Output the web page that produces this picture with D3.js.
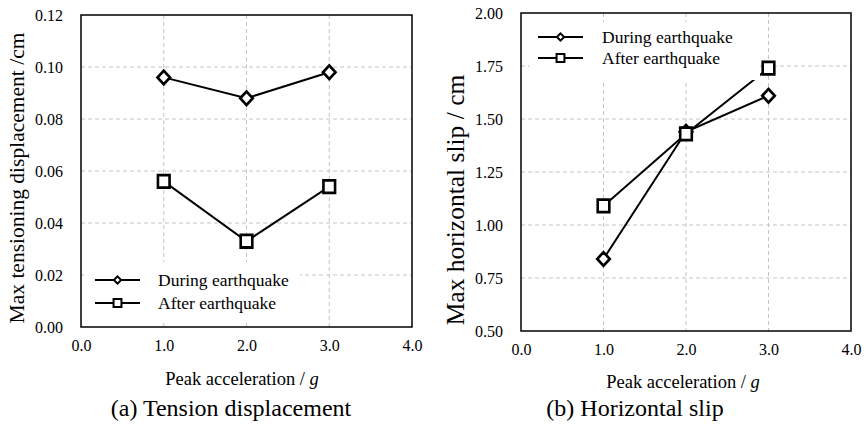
<!DOCTYPE html>
<html>
<head>
<meta charset="utf-8">
<script src="https://cdn.jsdelivr.net/npm/d3@7"></script>
<style>
    body { margin: 0; background: #fff; }
    svg { display: block; font-family: "Liberation Serif", "Times New Roman", serif; }
</style>
</head>
<body>
<svg id="fig" width="866" height="428"></svg>
<script>
// 横轴 峰值加速度
const accel = [1.0, 2.0, 3.0];
const xTicks = [0.0, 1.0, 2.0, 3.0, 4.0];
const seriesNames = ['During earthquake', 'After earthquake'];

// (a) 张拉位移
const tensionDuring = [0.096, 0.088, 0.098];
const tensionAfter = [0.056, 0.033, 0.054];
const tensionTicks = [0.00, 0.02, 0.04, 0.06, 0.08, 0.10, 0.12];

// (b) 水平滑移
const slipDuring = [0.84, 1.44, 1.61];
const slipAfter = [1.09, 1.43, 1.74];
const slipTicks = [0.50, 0.75, 1.00, 1.25, 1.50, 1.75, 2.00];

const svg = d3.select('#fig');

// 画 一个 子图
function drawPanel(cfg) {
    let g = svg.append('g');
    let x = d3.scaleLinear().domain([0, 4]).range([cfg.left, cfg.right]);
    let y = d3.scaleLinear().domain(d3.extent(cfg.yTicks)).range([cfg.bottom, cfg.top]);

    // 网格
    g.selectAll('.vgrid').data(xTicks.slice(1, -1)).enter().append('line')
        .attr('x1', d => x(d)).attr('x2', d => x(d))
        .attr('y1', cfg.top).attr('y2', cfg.bottom)
        .attr('stroke', '#c4c4c4').attr('stroke-width', 1).attr('stroke-dasharray', '4,3');
    g.selectAll('.hgrid').data(cfg.yTicks.slice(1, -1)).enter().append('line')
        .attr('x1', cfg.left).attr('x2', cfg.right)
        .attr('y1', d => y(d)).attr('y2', d => y(d))
        .attr('stroke', '#c4c4c4').attr('stroke-width', 1).attr('stroke-dasharray', '4,3');

    // 坐标轴 刻度文字
    let xAxis = d3.axisBottom(x).tickValues(xTicks).tickSize(0).tickPadding(13)
        .tickFormat(d3.format('.1f'));
    g.append('g').attr('transform', 'translate(0,' + cfg.bottom + ')').call(xAxis)
        .call(a => a.select('.domain').remove())
        .selectAll('text').attr('font-size', 16).attr('font-family', 'Liberation Serif').attr('fill', '#000');
    let yAxis = d3.axisLeft(y).tickValues(cfg.yTicks).tickSize(0).tickPadding(cfg.yPad)
        .tickFormat(d3.format('.2f'));
    g.append('g').attr('transform', 'translate(' + cfg.left + ',0)').call(yAxis)
        .call(a => a.select('.domain').remove())
        .selectAll('text').attr('font-size', 16).attr('font-family', 'Liberation Serif').attr('fill', '#000');

    // 线条 和 标记
    let line = d3.line().x((d, i) => x(accel[i])).y(d => y(d));
    let series = [
        {values: cfg.during, shape: d3.symbolDiamond2, size: 100, lsize: 34},
        {values: cfg.after, shape: d3.symbolSquare, size: 135, lsize: 62}
    ];
    for (let s of series) {
        g.append('path').attr('d', line(s.values))
            .attr('fill', 'none').attr('stroke', '#000').attr('stroke-width', 2);
    }
    for (let s of series) {
        g.selectAll(null).data(s.values).enter().append('path')
            .attr('d', d3.symbol().type(s.shape).size(s.size))
            .attr('transform', (d, i) => 'translate(' + x(accel[i]) + ',' + y(d) + ') scale(1,1.08)')
            .attr('fill', '#fff').attr('stroke', '#000').attr('stroke-width', 2.6);
    }

    // 外框
    g.append('rect').attr('x', cfg.left).attr('y', cfg.top)
        .attr('width', cfg.right - cfg.left).attr('height', cfg.bottom - cfg.top)
        .attr('fill', 'none').attr('stroke', '#000').attr('stroke-width', 1.5);

    // 图例
    let lg = cfg.legend;
    g.append('rect').attr('x', lg.x).attr('y', lg.y).attr('width', lg.w).attr('height', lg.h)
        .attr('fill', '#fff');
    series.forEach(function (s, i) {
        let ly = lg.y + lg.row0 + i * lg.step;
        g.append('line').attr('x1', lg.x + lg.lx).attr('x2', lg.x + lg.lx + 45)
            .attr('y1', ly).attr('y2', ly).attr('stroke', '#000').attr('stroke-width', 2.2);
        g.append('path').attr('d', d3.symbol().type(s.shape).size(s.lsize))
            .attr('transform', 'translate(' + (lg.x + lg.lx + 22.5) + ',' + ly + ')')
            .attr('fill', '#fff').attr('stroke', '#000').attr('stroke-width', 2);
        g.append('text').attr('x', lg.x + lg.tx).attr('y', ly).attr('dy', '0.32em')
            .attr('font-size', 17.5).text(seriesNames[i]);
    });

    // 轴标题
    let xt = g.append('text').attr('x', cfg.xTitle[0]).attr('y', cfg.xTitle[1])
        .attr('text-anchor', 'middle').attr('font-size', 18.5);
    xt.append('tspan').text('Peak acceleration / ');
    xt.append('tspan').attr('font-style', 'italic').text('g');
    g.append('text')
        .attr('transform', 'translate(' + cfg.yTitle[0] + ',' + cfg.yTitle[1] + ') rotate(-90)')
        .attr('text-anchor', 'middle').attr('dy', '0.35em').attr('font-size', cfg.yTitleSize)
        .text(cfg.yLabel);
    // 子图 标题
    g.append('text').attr('x', cfg.caption[0]).attr('y', cfg.caption[1])
        .attr('text-anchor', 'middle').attr('dy', '0.35em').attr('font-size', 24)
        .text(cfg.title);
}

drawPanel({
    left: 81, right: 412, top: 15, bottom: 327, yPad: 18,
    yTicks: tensionTicks, during: tensionDuring, after: tensionAfter,
    legend: {x: 84, y: 262, w: 216, h: 60, lx: 11, tx: 74, row0: 18, step: 23},
    xTitle: [242, 385], yTitle: [16, 178], yTitleSize: 21.5, caption: [231, 408],
    yLabel: 'Max tensioning displacement /cm', title: '(a) Tension displacement'
});

drawPanel({
    left: 521, right: 851, top: 13, bottom: 331, yPad: 18,
    yTicks: slipTicks, during: slipDuring, after: slipAfter,
    legend: {x: 530, y: 22, w: 230, h: 58, lx: 8, tx: 72, row0: 15, step: 21},
    xTitle: [683, 388], yTitle: [455, 200], yTitleSize: 25.5, caption: [635, 408],
    yLabel: 'Max horizontal slip / cm', title: '(b) Horizontal slip'
});
</script>
</body>
</html>
